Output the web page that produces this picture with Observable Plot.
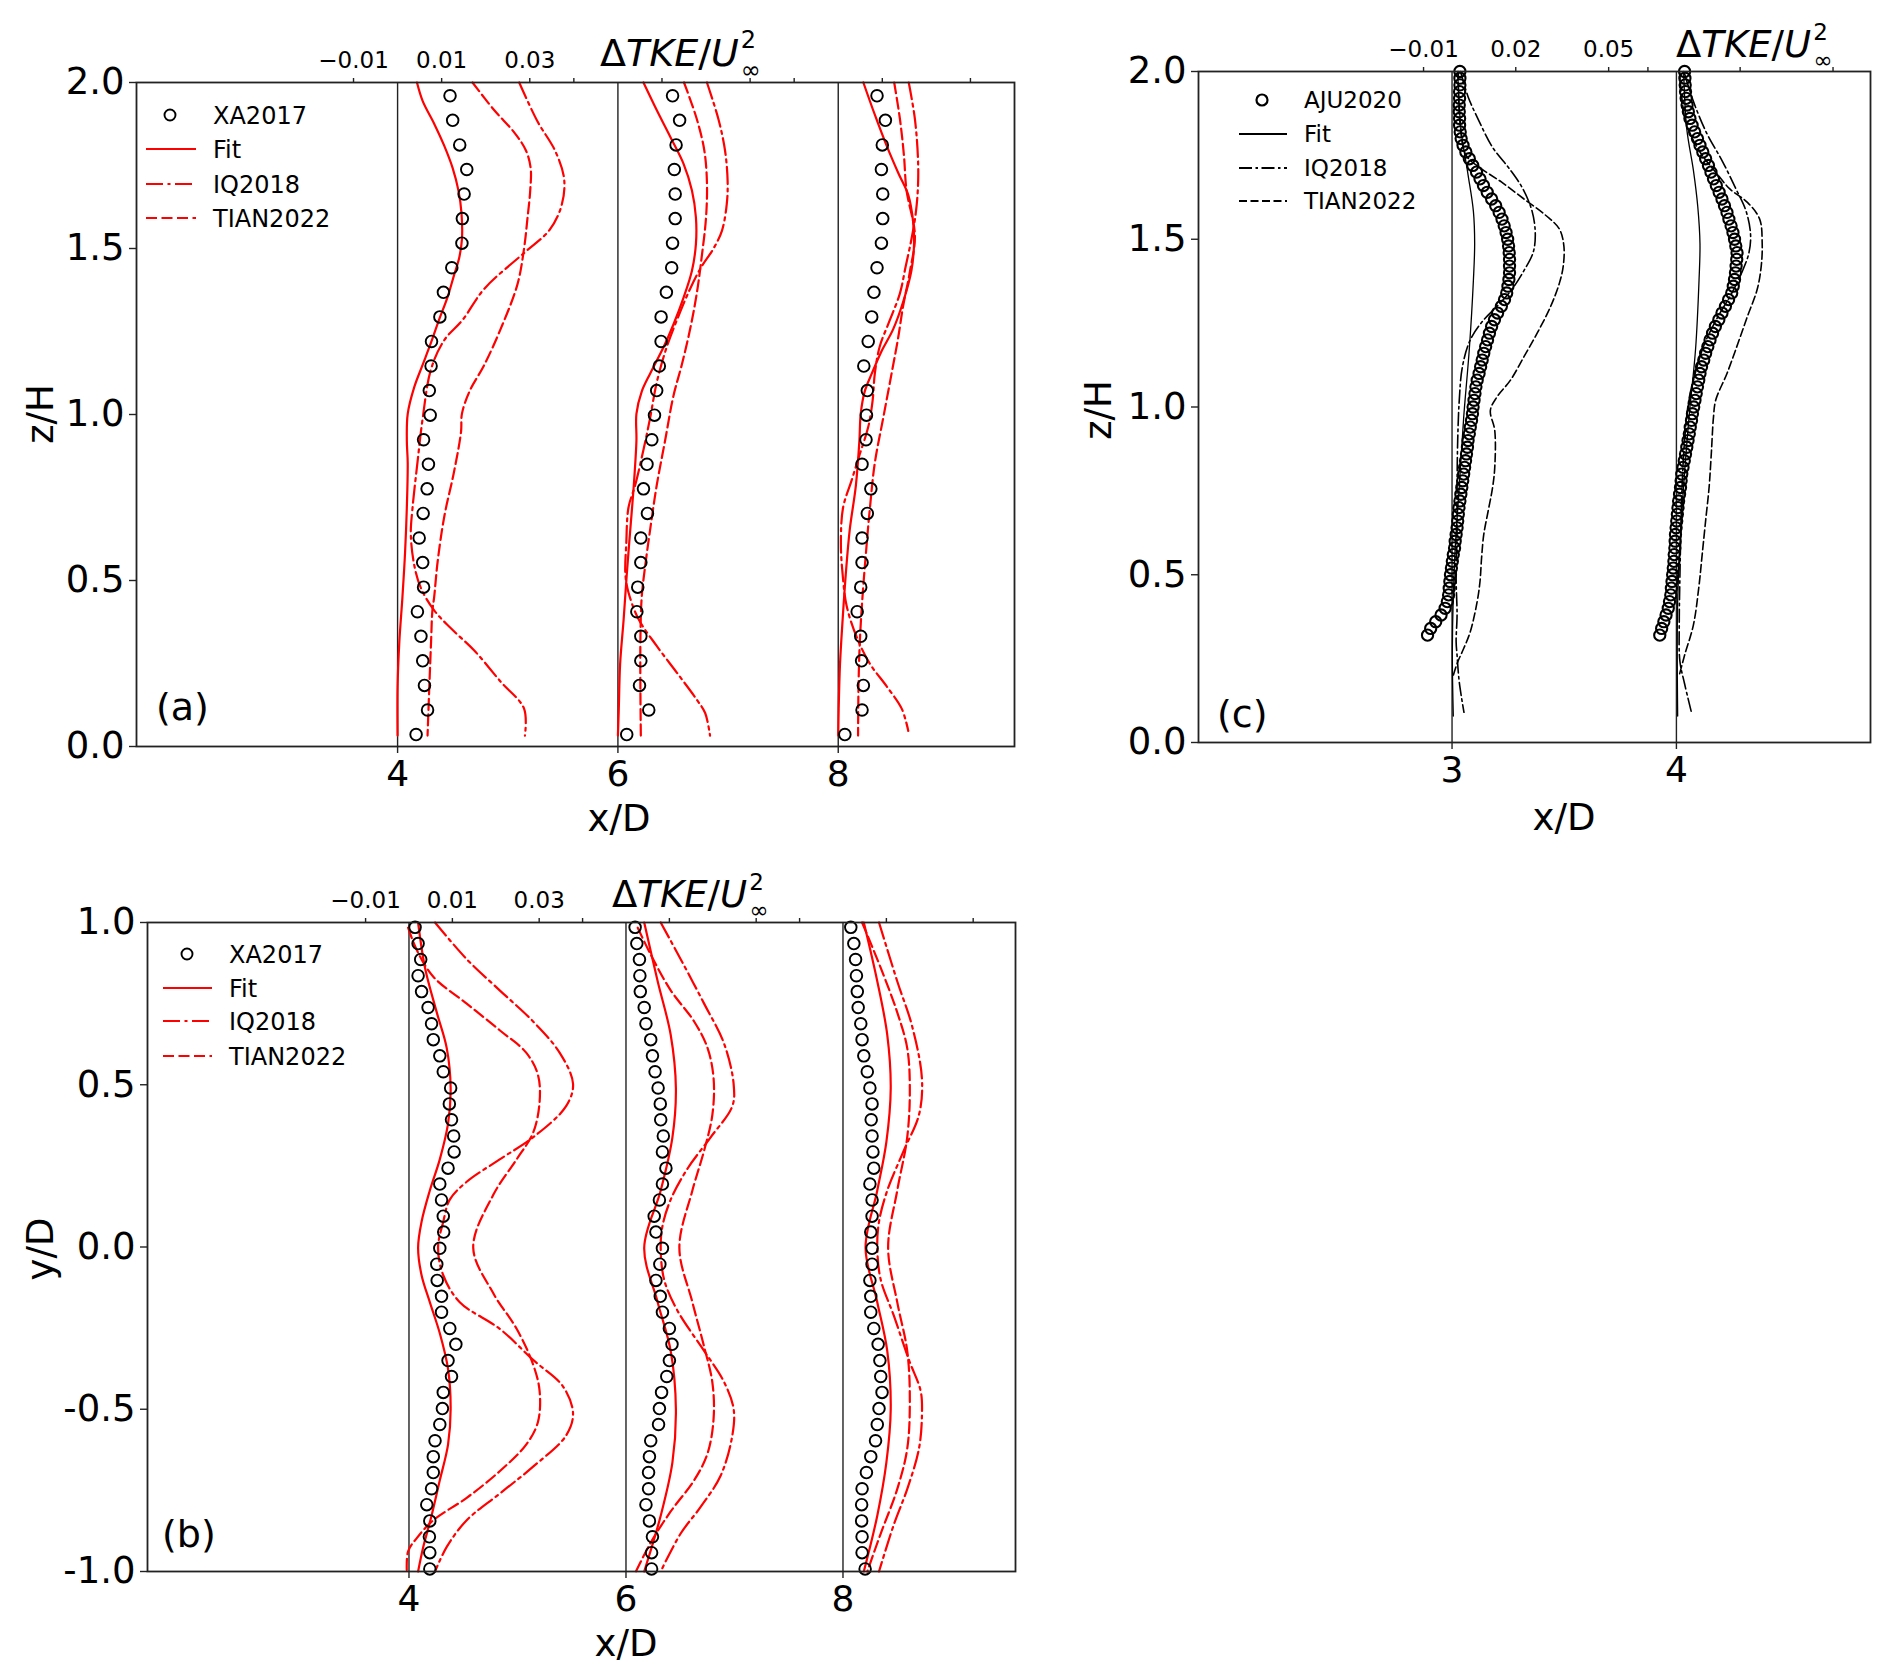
<!DOCTYPE html>
<html><head><meta charset="utf-8">
<script src="https://cdn.jsdelivr.net/npm/d3@7"></script>
<script src="https://cdn.jsdelivr.net/npm/@observablehq/plot@0.6"></script>
<style>
body{margin:0;background:#fff;}
#wrap{position:relative;width:1892px;height:1680px;background:#fff;}
#wrap > div{position:absolute;}
</style></head><body>
<div id="wrap"><div id="pa" style="left:0;top:0"></div><div id="pb" style="left:0;top:860px"></div><div id="pc" style="left:1050px;top:0"></div></div>
<script>
// ---------------- DATA ----------------
const stationsAB = [4, 6, 8];
const stationsC = [3, 4];
const scaleAB = 40;   // x/D offset per unit ΔTKE (panels a, b)
const scaleC = 14;    // x/D offset per unit ΔTKE (panel c)
const topTickValsAB = [-0.01, 0.01, 0.03];
const topTickLabelsAB = ["−0.01", "0.01", "0.03"];
const topTickOffsetsC = [-0.127, 0.284, 0.698];
const topTickLabelsC = ["−0.01", "0.02", "0.05"];
const yTicksA = [0, 0.5, 1.0, 1.5, 2.0];
const yTicksB = [-1.0, -0.5, 0, 0.5, 1.0];
const yTicksC = [0, 0.5, 1.0, 1.5, 2.0];
const legendAB = ["XA2017", "Fit", "IQ2018", "TIAN2022"];
const legendC = ["AJU2020", "Fit", "IQ2018", "TIAN2022"];

// Panel (a): z/H of XA2017 samples and ΔTKE at x/D = 4, 6, 8
const zA_xa = [1.96,1.886,1.812,1.738,1.664,1.59,1.516,1.442,1.368,1.294,1.22,1.146,1.072,0.998,0.924,0.85,0.776,0.702,0.628,0.554,0.48,0.406,0.332,0.258,0.184,0.11,0.036];
const a_xa_4 = [0.0119,0.0125,0.0141,0.0157,0.0151,0.0147,0.0146,0.0123,0.0104,0.0096,0.0077,0.0076,0.0072,0.0074,0.0059,0.0070,0.0067,0.0058,0.0049,0.0057,0.0059,0.0045,0.0053,0.0057,0.0061,0.0068,0.0042];
const a_xa_6 = [0.0124,0.0140,0.0132,0.0128,0.0130,0.0130,0.0124,0.0122,0.0110,0.0098,0.0098,0.0094,0.0088,0.0083,0.0077,0.0066,0.0058,0.0067,0.0052,0.0052,0.0045,0.0043,0.0052,0.0052,0.0049,0.0070,0.0020];
const a_xa_8 = [0.0088,0.0107,0.0100,0.0098,0.0101,0.0101,0.0098,0.0088,0.0081,0.0076,0.0068,0.0058,0.0066,0.0064,0.0063,0.0054,0.0074,0.0066,0.0054,0.0054,0.0051,0.0043,0.0051,0.0053,0.0057,0.0054,0.0015];
// lines: [z/H, ΔTKE]
const a_fit_4 = [[2.0,0.0044],[1.944,0.0057],[1.876,0.0083],[1.809,0.0106],[1.742,0.0125],[1.675,0.0138],[1.607,0.0145],[1.527,0.0146],[1.473,0.0140],[1.419,0.0128],[1.352,0.0113],[1.285,0.0094],[1.217,0.0076],[1.150,0.0057],[1.083,0.0038],[1.002,0.0023],[0.921,0.0021],[0.854,0.0023],[0.72,0.0021],[0.585,0.0017],[0.45,0.0011],[0.316,0.0004],[0.181,0.0],[0.033,0.0]];
const a_iq_4 = [[2.0,0.0276],[1.884,0.0317],[1.793,0.0358],[1.709,0.0378],[1.629,0.0372],[1.556,0.0345],[1.49,0.0290],[1.379,0.0197],[1.284,0.0147],[1.224,0.0106],[1.137,0.0076],[0.989,0.0057],[0.854,0.0045],[0.72,0.0034],[0.639,0.0030],[0.545,0.0038],[0.477,0.0053],[0.41,0.0083],[0.356,0.0121],[0.289,0.0174],[0.195,0.0234],[0.114,0.0287],[0.033,0.0289]];
const a_tian_4 = [[2.0,0.0170],[1.917,0.0219],[1.849,0.0265],[1.796,0.0291],[1.742,0.0302],[1.675,0.0301],[1.594,0.0295],[1.5,0.0287],[1.392,0.0272],[1.258,0.0234],[1.15,0.0197],[1.069,0.0163],[1.002,0.0146],[0.948,0.0144],[0.827,0.0128],[0.693,0.0106],[0.558,0.0091],[0.45,0.0083],[0.41,0.0079],[0.316,0.0076],[0.18,0.0072],[0.033,0.0068]];
const a_fit_6 = [[2.0,0.0058],[1.917,0.0088],[1.836,0.0119],[1.755,0.0149],[1.675,0.0168],[1.594,0.0177],[1.513,0.0177],[1.433,0.0168],[1.352,0.0149],[1.271,0.0126],[1.204,0.0104],[1.123,0.0073],[1.069,0.0054],[1.002,0.0042],[0.921,0.0042],[0.786,0.0036],[0.652,0.0028],[0.517,0.0020],[0.383,0.0013],[0.248,0.0005],[0.114,0.0002],[0.033,0.0]];
const a_iq_6 = [[2.0,0.0202],[1.89,0.0228],[1.796,0.0243],[1.701,0.0249],[1.634,0.0247],[1.553,0.0236],[1.5,0.0217],[1.446,0.0190],[1.379,0.0164],[1.298,0.0138],[1.204,0.0111],[1.096,0.0088],[0.989,0.0073],[0.894,0.0058],[0.786,0.0039],[0.72,0.0024],[0.612,0.0019],[0.518,0.0017],[0.464,0.0024],[0.383,0.0047],[0.303,0.0088],[0.222,0.0134],[0.141,0.0179],[0.101,0.0198],[0.033,0.0209]];
const a_tian_6 = [[2.0,0.0150],[1.89,0.0179],[1.796,0.0196],[1.701,0.0202],[1.594,0.0200],[1.473,0.0190],[1.365,0.0179],[1.258,0.0164],[1.15,0.0145],[1.056,0.0126],[0.921,0.0107],[0.786,0.0088],[0.652,0.0073],[0.545,0.0062],[0.45,0.0054],[0.316,0.0051],[0.181,0.0051],[0.033,0.0052]];
const a_fit_8 = [[2.0,0.0057],[1.903,0.0083],[1.809,0.0110],[1.728,0.0136],[1.661,0.0159],[1.58,0.0170],[1.513,0.0172],[1.433,0.0166],[1.338,0.0147],[1.258,0.0125],[1.19,0.0098],[1.123,0.0076],[1.069,0.0060],[1.002,0.0051],[0.921,0.0048],[0.786,0.0040],[0.652,0.0026],[0.517,0.0017],[0.383,0.0010],[0.248,0.0004],[0.114,0.0001],[0.033,0.0]];
const a_iq_8 = [[2.0,0.0160],[1.89,0.0174],[1.769,0.0181],[1.688,0.0181],[1.607,0.0176],[1.527,0.0166],[1.446,0.0153],[1.365,0.0140],[1.284,0.0117],[1.204,0.0094],[1.123,0.0083],[1.042,0.0078],[0.962,0.0068],[0.881,0.0049],[0.8,0.0030],[0.72,0.0011],[0.612,0.0006],[0.518,0.0010],[0.424,0.0019],[0.329,0.0042],[0.249,0.0072],[0.181,0.0110],[0.114,0.0144],[0.047,0.0159]];
const a_tian_8 = [[2.0,0.0127],[1.89,0.0140],[1.782,0.0149],[1.675,0.0155],[1.54,0.0174],[1.433,0.0163],[1.325,0.0147],[1.231,0.0136],[1.123,0.0121],[0.989,0.0102],[0.854,0.0083],[0.72,0.0072],[0.585,0.0063],[0.45,0.0055],[0.316,0.0049],[0.181,0.0046],[0.033,0.0045]];

// Panel (b): y/D of XA2017 samples and ΔTKE at x/D = 4, 6, 8
const yB_xa = [0.985,0.935,0.886,0.836,0.787,0.738,0.688,0.639,0.589,0.54,0.49,0.441,0.392,0.342,0.293,0.243,0.194,0.145,0.095,0.046,-0.004,-0.053,-0.103,-0.152,-0.201,-0.251,-0.3,-0.35,-0.399,-0.448,-0.498,-0.547,-0.597,-0.646,-0.695,-0.745,-0.794,-0.844,-0.893,-0.942,-0.992];
const b_xa_4 = [0.0014,0.0021,0.0027,0.0021,0.0029,0.0044,0.0052,0.0056,0.0071,0.0079,0.0096,0.0093,0.0098,0.0103,0.0104,0.0090,0.0071,0.0075,0.0079,0.0080,0.0071,0.0064,0.0065,0.0075,0.0075,0.0094,0.0108,0.0090,0.0098,0.0079,0.0077,0.0071,0.0060,0.0056,0.0056,0.0052,0.0041,0.0048,0.0047,0.0048,0.0048];
const b_xa_6 = [0.0021,0.0025,0.0031,0.0032,0.0033,0.0042,0.0046,0.0057,0.0061,0.0067,0.0074,0.0079,0.0080,0.0086,0.0084,0.0092,0.0084,0.0077,0.0065,0.0069,0.0084,0.0078,0.0069,0.0079,0.0084,0.0100,0.0106,0.0100,0.0094,0.0082,0.0077,0.0075,0.0057,0.0054,0.0052,0.0052,0.0046,0.0054,0.0061,0.0059,0.0059];
const b_xa_8 = [0.0018,0.0025,0.0029,0.0031,0.0033,0.0035,0.0041,0.0044,0.0048,0.0056,0.0062,0.0067,0.0065,0.0067,0.0069,0.0071,0.0062,0.0067,0.0067,0.0064,0.0067,0.0067,0.0062,0.0064,0.0064,0.0071,0.0081,0.0085,0.0087,0.0090,0.0083,0.0079,0.0075,0.0064,0.0054,0.0044,0.0043,0.0043,0.0044,0.0044,0.0051];
const b_fit_4 = [[1,0.0021],[0.86,0.0037],[0.723,0.0064],[0.613,0.0087],[0.489,0.0096],[0.38,0.0090],[0.27,0.0071],[0.174,0.0048],[0.078,0.0029],[-0.002,0.0021],[-0.087,0.0029],[-0.17,0.0048],[-0.266,0.0071],[-0.376,0.0090],[-0.499,0.0096],[-0.609,0.0090],[-0.719,0.0071],[-0.828,0.0052],[-0.924,0.0033],[-1,0.0021]];
const b_iq_4 = [[1,0.0060],[0.887,0.0133],[0.791,0.0209],[0.695,0.0286],[0.599,0.0347],[0.503,0.0378],[0.434,0.0362],[0.338,0.0286],[0.27,0.0209],[0.201,0.0133],[0.146,0.0094],[0.078,0.0079],[-0.002,0.0067],[-0.087,0.0079],[-0.17,0.0117],[-0.252,0.0209],[-0.348,0.0286],[-0.43,0.0355],[-0.513,0.0378],[-0.581,0.0362],[-0.677,0.0286],[-0.76,0.0209],[-0.842,0.0133],[-0.924,0.0087],[-1,0.0060]];
const b_tian_4 = [[0.984,-0.0002],[0.915,0.0018],[0.833,0.0056],[0.75,0.0133],[0.668,0.0209],[0.599,0.0270],[0.531,0.0297],[0.448,0.0301],[0.352,0.0286],[0.27,0.0248],[0.16,0.0194],[-0.002,0.0148],[-0.142,0.0194],[-0.252,0.0248],[-0.362,0.0286],[-0.444,0.0301],[-0.54,0.0297],[-0.609,0.0270],[-0.691,0.0209],[-0.773,0.0133],[-0.842,0.0056],[-0.897,0.0018],[-0.938,-0.0002],[-1,-0.0005]];
const b_fit_6 = [[1,0.0042],[0.819,0.0073],[0.654,0.0103],[0.489,0.0115],[0.338,0.0107],[0.174,0.0080],[-0.002,0.0042],[-0.17,0.0073],[-0.32,0.0103],[-0.499,0.0115],[-0.664,0.0107],[-0.828,0.0080],[-1,0.0042]];
const b_iq_6 = [[1,0.0080],[0.887,0.0126],[0.75,0.0180],[0.627,0.0226],[0.503,0.0248],[0.434,0.0245],[0.338,0.0195],[0.242,0.0142],[0.146,0.0103],[0.064,0.0084],[-0.002,0.0080],[-0.101,0.0088],[-0.197,0.0119],[-0.32,0.0180],[-0.416,0.0226],[-0.499,0.0248],[-0.581,0.0245],[-0.705,0.0218],[-0.801,0.0172],[-0.883,0.0126],[-1,0.0080]];
const b_tian_6 = [[0.984,0.0027],[0.901,0.0057],[0.791,0.0103],[0.695,0.0157],[0.613,0.0188],[0.517,0.0202],[0.407,0.0199],[0.297,0.0180],[0.174,0.0153],[-0.002,0.0123],[-0.17,0.0153],[-0.307,0.0180],[-0.417,0.0199],[-0.526,0.0202],[-0.636,0.0188],[-0.719,0.0157],[-0.815,0.0103],[-0.911,0.0057],[-1,0.0023]];
const b_fit_8 = [[1,0.0048],[0.819,0.0079],[0.654,0.0102],[0.489,0.0110],[0.324,0.0100],[0.174,0.0079],[-0.002,0.0052],[-0.17,0.0079],[-0.32,0.0102],[-0.499,0.0110],[-0.664,0.0100],[-0.828,0.0079],[-1,0.0048]];
const b_iq_8 = [[1,0.0083],[0.819,0.0125],[0.682,0.0159],[0.517,0.0182],[0.407,0.0175],[0.297,0.0140],[0.174,0.0102],[0.078,0.0083],[-0.002,0.0079],[-0.101,0.0087],[-0.211,0.0117],[-0.348,0.0152],[-0.444,0.0179],[-0.513,0.0182],[-0.622,0.0175],[-0.746,0.0148],[-0.856,0.0117],[-1,0.0083]];
const b_tian_8 = [[1,0.0044],[0.86,0.0087],[0.723,0.0125],[0.613,0.0148],[0.489,0.0154],[0.338,0.0148],[0.174,0.0125],[-0.002,0.0104],[-0.17,0.0125],[-0.32,0.0148],[-0.472,0.0154],[-0.622,0.0148],[-0.746,0.0125],[-0.883,0.0087],[-1,0.0056]];

// Panel (c): z/H of AJU2020 samples and ΔTKE at x/D = 3, 4
const zC_aju = [0.32,0.34,0.36,0.38,0.40,0.42,0.44,0.46,0.48,0.50,0.52,0.54,0.56,0.58,0.60,0.62,0.64,0.66,0.68,0.70,0.72,0.74,0.76,0.78,0.80,0.82,0.84,0.86,0.88,0.90,0.92,0.94,0.96,0.98,1.00,1.02,1.04,1.06,1.08,1.10,1.12,1.14,1.16,1.18,1.20,1.22,1.24,1.26,1.28,1.30,1.32,1.34,1.36,1.38,1.40,1.42,1.44,1.46,1.48,1.50,1.52,1.54,1.56,1.58,1.60,1.62,1.64,1.66,1.68,1.70,1.72,1.74,1.76,1.78,1.80,1.82,1.84,1.86,1.88,1.90,1.92,1.94,1.96,1.98,2.00];
const c_aju_3 = [-0.0078,-0.0068,-0.0052,-0.0035,-0.0022,-0.0015,-0.0011,-0.0009,-0.0007,-0.0005,-0.0002,0.0001,0.0004,0.0008,0.0010,0.0013,0.0016,0.0018,0.0020,0.0022,0.0025,0.0028,0.0031,0.0034,0.0037,0.0040,0.0043,0.0046,0.0049,0.0051,0.0055,0.0058,0.0062,0.0065,0.0067,0.0070,0.0073,0.0076,0.0080,0.0086,0.0091,0.0096,0.0101,0.0107,0.0113,0.0119,0.0126,0.0135,0.0145,0.0157,0.0167,0.0174,0.0178,0.0181,0.0183,0.0183,0.0183,0.0182,0.0180,0.0177,0.0172,0.0166,0.0159,0.0150,0.0139,0.0126,0.0112,0.0100,0.0089,0.0078,0.0066,0.0055,0.0044,0.0035,0.0029,0.0026,0.0024,0.0024,0.0023,0.0023,0.0024,0.0024,0.0025,0.0025,0.0025];
const c_aju_4 = [-0.0053,-0.0047,-0.0040,-0.0033,-0.0026,-0.0022,-0.0018,-0.0016,-0.0014,-0.0012,-0.0010,-0.0008,-0.0007,-0.0005,-0.0004,-0.0003,-0.0001,0.0001,0.0003,0.0005,0.0007,0.0010,0.0013,0.0015,0.0017,0.0021,0.0025,0.0029,0.0033,0.0037,0.0041,0.0044,0.0048,0.0051,0.0055,0.0059,0.0063,0.0067,0.0071,0.0075,0.0080,0.0087,0.0093,0.0100,0.0107,0.0115,0.0124,0.0135,0.0145,0.0156,0.0166,0.0176,0.0181,0.0185,0.0188,0.0190,0.0192,0.0193,0.0189,0.0185,0.0180,0.0174,0.0167,0.0161,0.0153,0.0145,0.0136,0.0127,0.0118,0.0110,0.0102,0.0093,0.0084,0.0075,0.0067,0.0058,0.0050,0.0043,0.0038,0.0034,0.0031,0.0029,0.0028,0.0027,0.0026];
const c_fit_3 = [[2.0,0.0018],[1.897,0.0023],[1.815,0.0030],[1.692,0.0051],[1.583,0.0068],[1.487,0.0072],[1.378,0.0068],[1.173,0.0055],[0.968,0.0037],[0.763,0.0023],[0.558,0.0009],[0.284,0.0001],[0.079,0.0004]];
const c_fit_4 = [[2.0,0.0023],[1.829,0.0033],[1.706,0.0054],[1.597,0.0068],[1.487,0.0075],[1.378,0.0072],[1.173,0.0061],[0.968,0.0040],[0.695,0.0018],[0.421,0.0004],[0.079,0.0004]];
const c_iq_3 = [[2.0,0.0027],[1.925,0.0051],[1.856,0.0084],[1.774,0.0129],[1.706,0.0186],[1.651,0.0225],[1.583,0.0255],[1.515,0.0265],[1.46,0.0258],[1.405,0.0228],[1.35,0.0190],[1.30,0.0143],[1.26,0.0101],[1.20,0.0058],[1.12,0.0033],[1.02,0.0023],[0.90,0.0018],[0.76,0.0016],[0.63,0.0016],[0.49,0.0013],[0.38,0.0016],[0.30,0.0013],[0.26,0.0016],[0.18,0.0023],[0.09,0.0038]];
const c_iq_4 = [[1.993,0.0026],[1.911,0.0054],[1.815,0.0097],[1.733,0.0146],[1.651,0.0189],[1.583,0.0222],[1.515,0.0236],[1.46,0.0231],[1.405,0.0210],[1.337,0.0175],[1.269,0.0132],[1.187,0.0089],[1.104,0.0061],[1.023,0.0040],[0.9,0.0026],[0.763,0.0018],[0.626,0.0014],[0.489,0.0011],[0.353,0.0009],[0.243,0.0011],[0.175,0.0026],[0.093,0.0047]];
const c_tian_3 = [[2.0,0.0020],[1.85,0.0025],[1.75,0.0045],[1.71,0.0094],[1.67,0.0158],[1.62,0.0229],[1.57,0.0300],[1.53,0.0342],[1.48,0.0356],[1.42,0.0354],[1.37,0.0342],[1.30,0.0314],[1.22,0.0271],[1.15,0.0229],[1.08,0.0186],[1.03,0.0143],[0.99,0.0122],[0.93,0.0136],[0.82,0.0136],[0.76,0.0129],[0.69,0.0115],[0.62,0.0101],[0.55,0.0094],[0.48,0.0089],[0.42,0.0080],[0.33,0.0058],[0.28,0.0037],[0.24,0.0018],[0.20,0.0004]];
const c_tian_4 = [[2.0,0.0010],[1.85,0.0030],[1.76,0.0075],[1.70,0.0125],[1.65,0.0170],[1.61,0.0226],[1.56,0.0265],[1.49,0.0273],[1.42,0.0270],[1.35,0.0257],[1.27,0.0226],[1.19,0.0196],[1.10,0.0161],[1.02,0.0125],[0.97,0.0118],[0.86,0.0111],[0.76,0.0104],[0.67,0.0094],[0.56,0.0082],[0.46,0.0071],[0.35,0.0054],[0.26,0.0026],[0.20,0.0009]];

// ---------------- DRAWING ----------------
const FONT = "DejaVu Sans, Verdana, sans-serif";
const RED = "#ff0000";
const DASH_AB = "11,4.5", DOTDASH_AB = "17,4.5,3,4.5";
const DASH_C = "8,3.5", DOTDASH_C = "13,3.5,2.5,3.5";

function profile(pairs, x0, k, o) {
  return Plot.line(pairs, {x: d => x0 + k * d[1], y: d => d[0], stroke: o.stroke, strokeWidth: o.w,
    strokeDasharray: o.dash, curve: "catmull-rom"});
}
function dots(zs, vs, x0, k, r, sw) {
  return Plot.dot(zs.map((z, i) => ({z, v: vs[i]})), {x: d => x0 + k * d.v, y: "z", r, stroke: "black",
    strokeWidth: sw, fill: "none"});
}
function topAxis(stations, offsets, labels) {
  const pos = stations.flatMap(s => offsets.map(o => s + o));
  const lab = new Map(offsets.map((o, i) => [(stations[0] + o).toFixed(4), labels[i]]));
  return Plot.axisX({anchor: "top", ticks: pos, tickFormat: d => lab.get(d.toFixed(4)) ?? "",
    tickSize: 5, tickPadding: 10, fontSize: 23, stroke: "#222", strokeWidth: 1.4, label: null});
}
function makePlot(cfg) {
  return Plot.plot({
    width: cfg.width, height: cfg.height,
    marginLeft: cfg.mL, marginRight: cfg.mR, marginTop: cfg.mT, marginBottom: cfg.mB,
    x: {domain: cfg.xDomain}, y: {domain: cfg.yDomain},
    style: {fontFamily: FONT, background: "white", color: "black", overflow: "visible"},
    marks: [
      Plot.ruleX(cfg.stations, {stroke: "#222", strokeWidth: 1.4}),
      ...cfg.marks,
      Plot.frame({stroke: "#222", strokeWidth: 1.8}),
      Plot.axisX({ticks: cfg.stations, tickFormat: d => String(d), tickSize: 7, tickPadding: 7, fontSize: 36,
        stroke: "#222", strokeWidth: 1.4, label: null}),
      cfg.top,
      Plot.axisY({ticks: cfg.yTicks, tickFormat: d => d.toFixed(1), tickSize: 7, tickPadding: 5, fontSize: 37,
        stroke: "#222", strokeWidth: 1.4, label: null})
    ]
  });
}

function txt(svg, x, y, s, size, extra = {}) {
  const t = d3.select(svg).append("text").attr("x", x).attr("y", y).attr("font-family", FONT)
    .attr("font-size", size).attr("fill", "black").attr("text-anchor", "start").text(s);
  for (const [k, v] of Object.entries(extra)) t.attr(k, v);
  return t;
}
function tkeLabel(svg, x, y, size) {
  const g = d3.select(svg).append("text").attr("x", x).attr("y", y).attr("font-family", FONT)
    .attr("font-size", size).attr("fill", "black").attr("text-anchor", "start");
  g.append("tspan").text("Δ");
  g.append("tspan").attr("font-style", "italic").text("TKE");
  g.append("tspan").text("/");
  g.append("tspan").attr("font-style", "italic").text("U");
  const w = g.node().getComputedTextLength();
  const s2 = Math.round(size * 0.62);
  txt(svg, x + w + 2, y - size * 0.47, "2", s2);
  txt(svg, x + w + 2, y + size * 0.31, "∞", s2);
}
function legend(svg, items, L, color, r, sw, dash, dotdash, fs) {
  const g = d3.select(svg).append("g");
  items.forEach((label, i) => {
    const cy = L.rows[i];
    if (i === 0) {
      g.append("circle").attr("cx", L.mx).attr("cy", cy).attr("r", r).attr("fill", "none")
        .attr("stroke", "black").attr("stroke-width", sw);
    } else {
      const da = i === 1 ? null : i === 2 ? dotdash : dash;
      const ln = g.append("line").attr("x1", L.l0).attr("x2", L.l1).attr("y1", cy).attr("y2", cy)
        .attr("stroke", color).attr("stroke-width", L.lw);
      if (da) ln.attr("stroke-dasharray", da);
    }
    txt(svg, L.tx, cy + fs * 0.36, label, fs);
  });
}

// ---- Panel (a)
const marksA = [];
[[4, a_fit_4, a_iq_4, a_tian_4, a_xa_4], [6, a_fit_6, a_iq_6, a_tian_6, a_xa_6], [8, a_fit_8, a_iq_8, a_tian_8, a_xa_8]]
  .forEach(([x0, fit, iq, tian, xa]) => {
    marksA.push(profile(fit, x0, scaleAB, {stroke: RED, w: 2.2}));
    marksA.push(profile(iq, x0, scaleAB, {stroke: RED, w: 2.2, dash: DOTDASH_AB}));
    marksA.push(profile(tian, x0, scaleAB, {stroke: RED, w: 2.2, dash: DASH_AB}));
    marksA.push(dots(zA_xa, xa, x0, scaleAB, 5.8, 1.9));
  });
const svgA = makePlot({width: 1040, height: 860, mL: 136, mR: 26, mT: 82, mB: 114,
  xDomain: [1.63, 9.6], yDomain: [0, 2], yTicks: yTicksA, stations: stationsAB, marks: marksA,
  top: topAxis(stationsAB, topTickValsAB.map(v => v * scaleAB), topTickLabelsAB)});
document.getElementById("pa").append(svgA);
tkeLabel(svgA, 600, 66, 38);
txt(svgA, 619, 831, "x/D", 37, {"text-anchor": "middle"});
txt(svgA, 0, 0, "z/H", 37, {"text-anchor": "middle", transform: "translate(53,414) rotate(-90)"});
txt(svgA, 156, 720, "(a)", 38);
legend(svgA, legendAB, {mx: 170, l0: 146, l1: 196, tx: 213, rows: [115, 149, 184, 218], lw: 2.2},
  RED, 5.5, 1.9, DASH_AB, DOTDASH_AB, 24);

// ---- Panel (b)
const marksB = [];
[[4, b_fit_4, b_iq_4, b_tian_4, b_xa_4], [6, b_fit_6, b_iq_6, b_tian_6, b_xa_6], [8, b_fit_8, b_iq_8, b_tian_8, b_xa_8]]
  .forEach(([x0, fit, iq, tian, xa]) => {
    marksB.push(profile(fit, x0, scaleAB, {stroke: RED, w: 2.2}));
    marksB.push(profile(iq, x0, scaleAB, {stroke: RED, w: 2.2, dash: DOTDASH_AB}));
    marksB.push(profile(tian, x0, scaleAB, {stroke: RED, w: 2.2, dash: DASH_AB}));
    marksB.push(dots(yB_xa, xa, x0, scaleAB, 5.8, 1.9));
  });
const svgB = makePlot({width: 1040, height: 820, mL: 147, mR: 25, mT: 62, mB: 109,
  xDomain: [1.59, 9.59], yDomain: [-1, 1], yTicks: yTicksB, stations: stationsAB, marks: marksB,
  top: topAxis(stationsAB, topTickValsAB.map(v => v * scaleAB), topTickLabelsAB)});
document.getElementById("pb").append(svgB);
tkeLabel(svgB, 612, 47, 37);
txt(svgB, 626, 796, "x/D", 37, {"text-anchor": "middle"});
txt(svgB, 0, 0, "y/D", 37, {"text-anchor": "middle", transform: "translate(53,389) rotate(-90)"});
txt(svgB, 162, 687, "(b)", 38);
legend(svgB, legendAB, {mx: 187, l0: 163, l1: 212, tx: 229, rows: [94, 128, 161, 196], lw: 2.2},
  RED, 5.5, 1.9, DASH_AB, DOTDASH_AB, 24);

// ---- Panel (c)
const marksC = [];
[[3, c_fit_3, c_iq_3, c_tian_3, c_aju_3], [4, c_fit_4, c_iq_4, c_tian_4, c_aju_4]]
  .forEach(([x0, fit, iq, tian, aju]) => {
    marksC.push(profile(fit, x0, scaleC, {stroke: "black", w: 1.3}));
    marksC.push(profile(iq, x0, scaleC, {stroke: "black", w: 1.6, dash: DOTDASH_C}));
    marksC.push(profile(tian, x0, scaleC, {stroke: "black", w: 1.6, dash: DASH_C}));
    marksC.push(dots(zC_aju, aju, x0, scaleC, 5.6, 2.1));
  });
const svgC = makePlot({width: 842, height: 860, mL: 148, mR: 22, mT: 71, mB: 118,
  xDomain: [1.87, 4.865], yDomain: [0, 2], yTicks: yTicksC, stations: stationsC, marks: marksC,
  top: topAxis(stationsC, topTickOffsetsC, topTickLabelsC)});
document.getElementById("pc").append(svgC);
tkeLabel(svgC, 626, 57, 37);
txt(svgC, 514, 830, "x/D", 37, {"text-anchor": "middle"});
txt(svgC, 0, 0, "z/H", 37, {"text-anchor": "middle", transform: "translate(61,410) rotate(-90)"});
txt(svgC, 167, 727, "(c)", 38);
legend(svgC, legendC, {mx: 212, l0: 189, l1: 237, tx: 254, rows: [100, 134, 168, 201], lw: 1.8},
  "black", 5.5, 2.2, DASH_C, DOTDASH_C, 23);
</script></body></html>
